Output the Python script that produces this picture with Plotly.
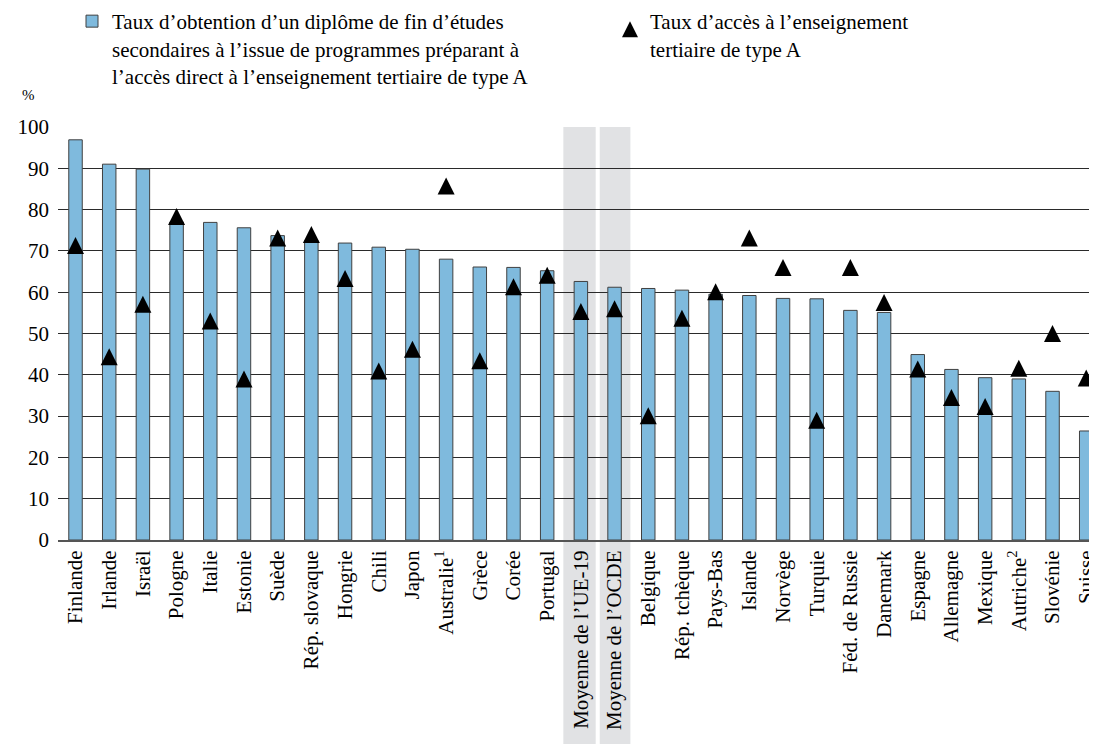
import plotly.graph_objects as go

categories = ["Finlande", "Irlande", "Israël", "Pologne", "Italie", "Estonie", "Suède",
              "Rép. slovaque", "Hongrie", "Chili", "Japon", "Australie<sup>1</sup>", "Grèce",
              "Corée", "Portugal", "Moyenne de l’UE-19", "Moyenne de l’OCDE", "Belgique",
              "Rép. tchèque", "Pays-Bas", "Islande", "Norvège", "Turquie", "Féd. de Russie",
              "Danemark", "Espagne", "Allemagne", "Mexique", "Autriche<sup>2</sup>",
              "Slovénie", "Suisse"]

grad_rate = [96.9, 91.0, 89.8, 77.0, 76.9, 75.6, 73.7, 72.5, 71.9, 70.9, 70.4, 68.0, 66.1,
             66.0, 65.2, 62.6, 61.2, 60.9, 60.5, 59.5, 59.2, 58.5, 58.4, 55.6, 55.1, 44.9,
             41.3, 39.3, 39.0, 36.0, 26.4]

entry_rate = [71.3, 44.4, 57.1, 78.3, 53.0, 39.0, 73.1, 74.0, 63.3, 40.9, 46.2, 85.7, 43.4,
              61.3, 64.1, 55.3, 56.0, 30.1, 53.7, 60.1, 73.1, 66.0, 29.0, 66.0, 57.5, 41.4,
              34.5, 32.3, 41.6, 50.0, 39.2]

y_ticks = [0, 10, 20, 30, 40, 50, 60, 70, 80, 90, 100]

bar_name = ("Taux d’obtention d’un diplôme de fin d’études<br>"
            "secondaires à l’issue de programmes préparant à<br>"
            "l’accès direct à l’enseignement tertiaire de type A")
tri_name = "Taux d’accès à l’enseignement<br>tertiaire de type A"

FONT = "Liberation Serif"
OFF = 8  # page body margin
W, H = 1097 - OFF, 744 - OFF
ML, MR, MT, MB = 58 - OFF, 0, 127 - OFF, 204
plot_h = H - MT - MB
plot_w = W - ML - MR
TRI = 17  # arrow-up tip sits on the point; centre it via an offset axis
d = (TRI / 2) / plot_h * 100


def px_x(p):
    return (p - OFF - ML) / plot_w


def px_y(p):
    return 1 + (MT - (p - OFF)) / plot_h


fig = go.Figure()
fig.add_trace(go.Bar(
    x=categories, y=grad_rate, name=bar_name, width=0.4, legend="legend",
    marker=dict(color="#7fbadd", line=dict(color="#404040", width=1)),
))
fig.add_trace(go.Scatter(
    x=categories, y=entry_rate, name=tri_name, mode="markers", yaxis="y2",
    legend="legend2",
    marker=dict(symbol="arrow-up", size=TRI, color="black", line=dict(width=0)),
    cliponaxis=False,
))

shapes = []
i1 = categories.index("Moyenne de l’UE-19")
i2 = categories.index("Moyenne de l’OCDE")
for i, (a, b) in zip((i1, i2), ((-0.52, 0.44), (-0.44, 0.47))):
    shapes.append(dict(type="rect", xref="x", yref="paper", x0=i + a, x1=i + b,
                       y0=-MB / plot_h, y1=1, fillcolor="#e1e2e4", line=dict(width=0),
                       layer="below"))

legend_common = dict(orientation="v", xanchor="left", yanchor="top", valign="top",
                     font=dict(family=FONT, size=21, color="black"),
                     bgcolor="rgba(0,0,0,0)", itemwidth=30)
fig.update_layout(
    width=W, height=H, showlegend=True,
    margin=dict(l=ML, r=MR, t=MT, b=MB, autoexpand=False),
    paper_bgcolor="white", plot_bgcolor="rgba(0,0,0,0)",
    font=dict(family=FONT, size=21, color="black"),
    shapes=shapes,
    legend=dict(x=px_x(72), y=px_y(1), **legend_common),
    legend2=dict(x=px_x(610), y=px_y(1), **legend_common),
    annotations=[dict(text="%", xref="paper", yref="paper", x=px_x(28), y=px_y(95),
                      showarrow=False, font=dict(family=FONT, size=15),
                      xanchor="center", yanchor="middle")],
)
fig.update_yaxes(range=[0, 100], tickvals=y_ticks, showgrid=True, gridcolor="#2a2a2a",
                 gridwidth=1, zeroline=False, ticks="", ticklabelstandoff=8,
                 automargin=False, tickfont=dict(family=FONT, size=21),
                 layer="below traces")
fig.update_layout(yaxis2=dict(overlaying="y", range=[-d, 100 - d], visible=False,
                              automargin=False))
fig.update_xaxes(type="category", range=[-0.52, 30.32], tickangle=-90, showline=True,
                 linecolor="#555555", linewidth=2, ticks="", automargin=False,
                 ticklabeloverflow="allow", tickfont=dict(family=FONT, size=21))

fig.write_html("out.html")
